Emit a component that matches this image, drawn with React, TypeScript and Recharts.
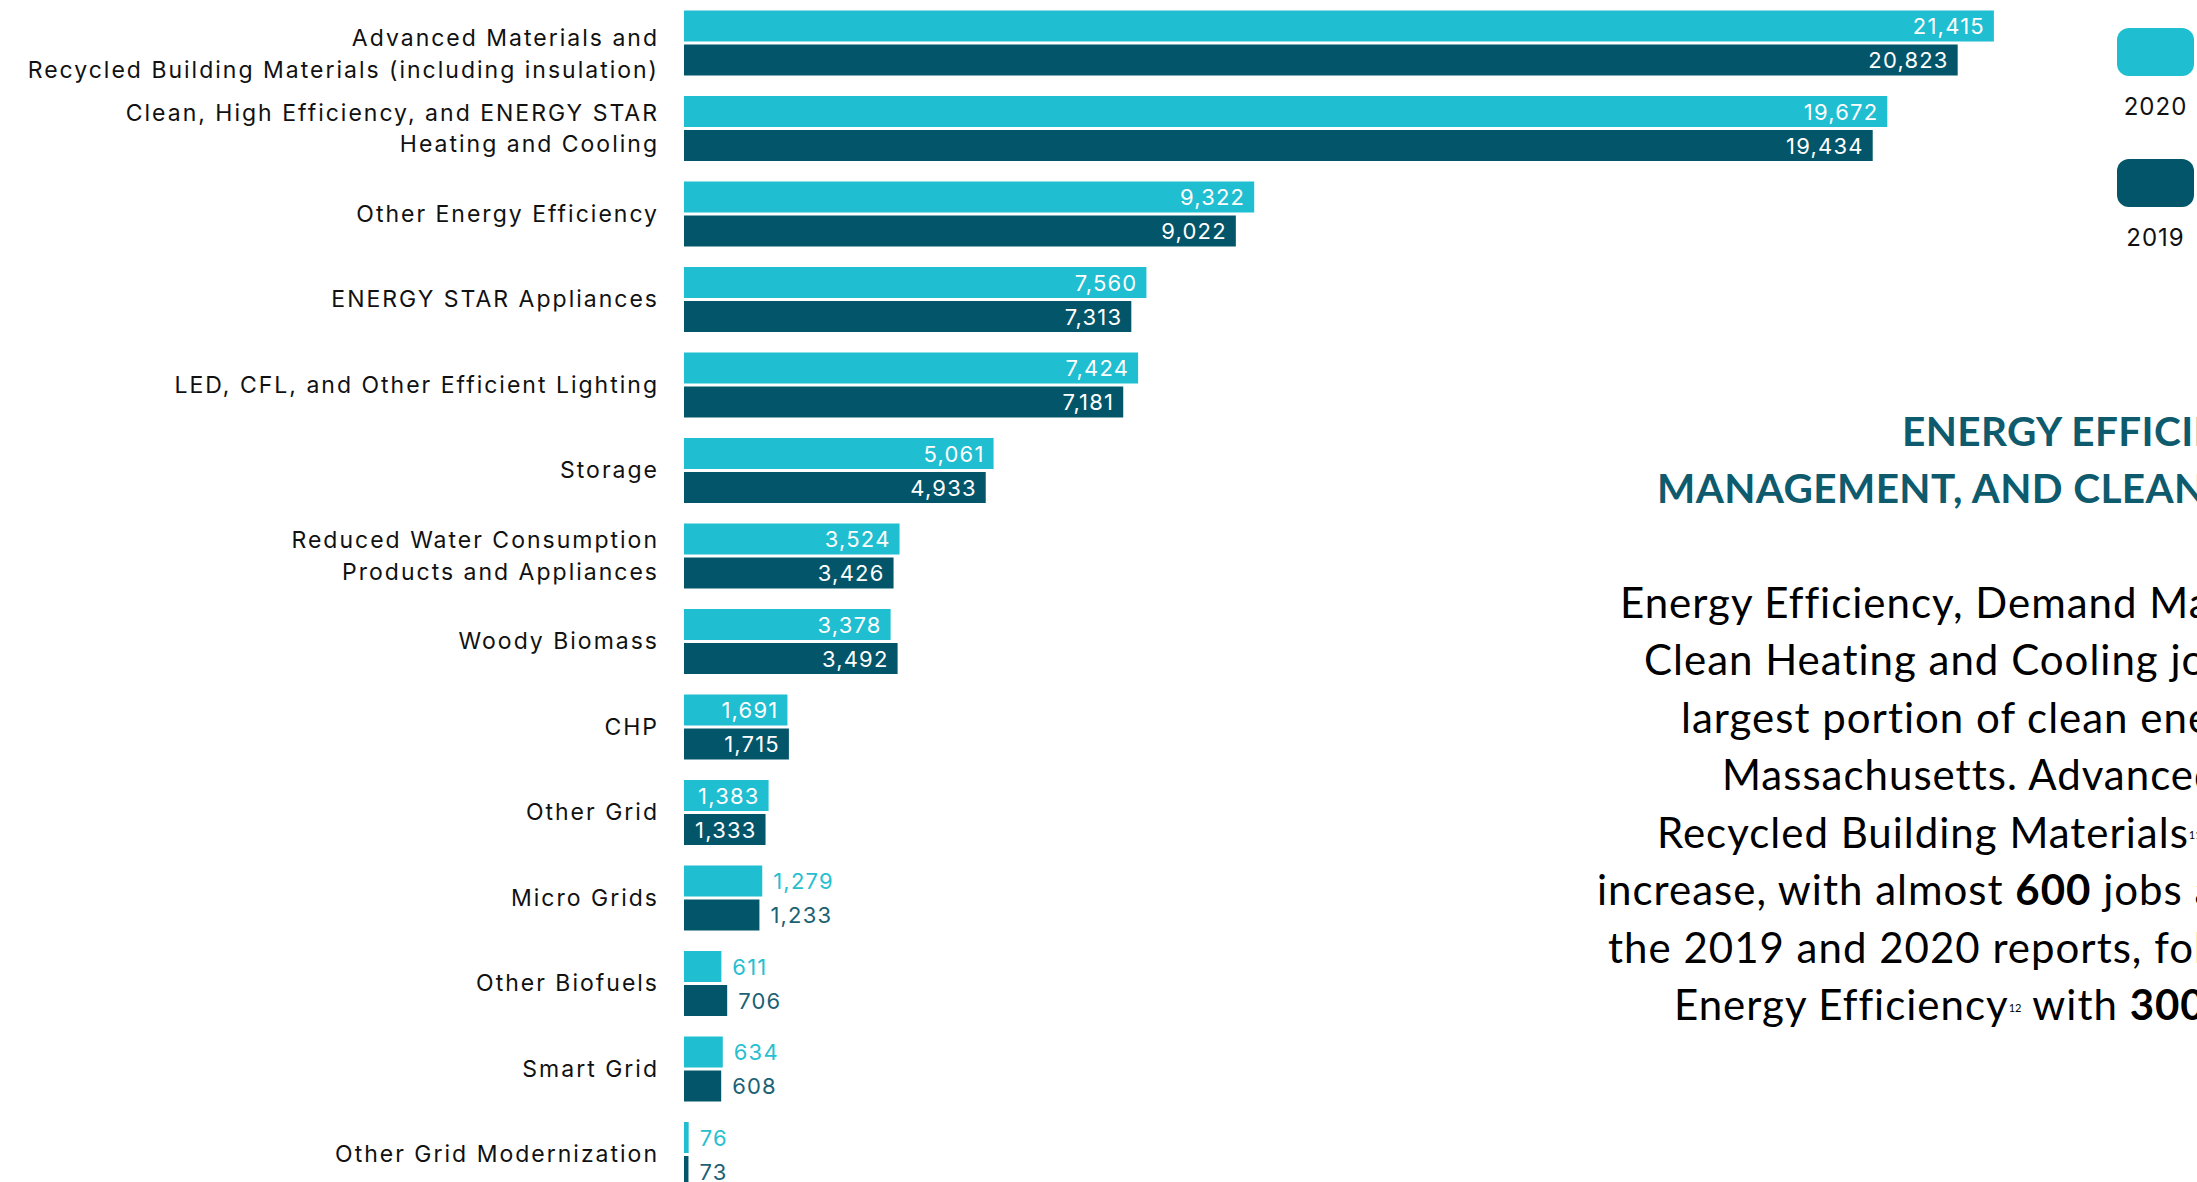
import React from 'react';
import { BarChart, Bar, XAxis, YAxis, LabelList, Legend } from 'recharts';

const categories = [
  'Advanced Materials and\nRecycled Building Materials (including insulation)',
  'Clean, High Efficiency, and ENERGY STAR\nHeating and Cooling',
  'Other Energy Efficiency',
  'ENERGY STAR Appliances',
  'LED, CFL, and Other Efficient Lighting',
  'Storage',
  'Reduced Water Consumption\nProducts and Appliances',
  'Woody Biomass',
  'CHP',
  'Other Grid',
  'Micro Grids',
  'Other Biofuels',
  'Smart Grid',
  'Other Grid Modernization',
];

const jobs2020 = [21415, 19672, 9322, 7560, 7424, 5061, 3524, 3378, 1691, 1383, 1279, 611, 634, 76];
const jobs2019 = [20823, 19434, 9022, 7313, 7181, 4933, 3426, 3492, 1715, 1333, 1233, 706, 608, 73];

const seriesNames = ['2020', '2019'];
const seriesColors = ['#1FBED0', '#03566A'];
const outsideLabelColors = ['#27BFD0', '#1B6274'];

const titleLines = ['ENERGY EFFICIENCY, DEMAND', 'MANAGEMENT, AND CLEAN HEATING AND COOLING'];
const bodyLines = [
  'Energy Efficiency, Demand Management, and',
  'Clean Heating and Cooling jobs represent the',
  'largest portion of clean energy jobs in',
  'Massachusetts. Advanced Materials and',
  'Recycled Building Materials|11| saw the largest',
  'increase, with almost *600* jobs added between',
  'the 2019 and 2020 reports, followed by Other',
  'Energy Efficiency|12| with *300* jobs added.',
];

const data = categories.map((name, i) => ({
  name,
  v2020: jobs2020[i],
  v2019: jobs2019[i],
}));

const LABEL_FONT = 'Inter, "Noto Sans", sans-serif';
const BODY_FONT = 'Lato, "Open Sans", sans-serif';

const CategoryTick = (props: any) => {
  const { x, y, payload, index } = props;
  const lines = String(payload.value).split('\n');
  const lh = 31.5;
  const shift = index === 0 ? 11 : 0;
  return (
    <text
      x={x}
      y={Number(y) + shift}
      textAnchor="end"
      dominantBaseline="central"
      fontFamily={LABEL_FONT}
      fontSize={23}
      letterSpacing={2}
      fill="#111111"
    >
      {lines.map((l: string, i: number) => (
        <tspan key={i} x={x} dy={i === 0 ? -((lines.length - 1) * lh) / 2 : lh} dominantBaseline="central">
          {l}
        </tspan>
      ))}
    </text>
  );
};

const makeValueLabel = (outsideColor: string) => (props: any) => {
  const { x, y, width, height, value } = props;
  const text = Number(value).toLocaleString('en-US');
  const cy = Number(y) + Number(height) / 2;
  if (Number(width) >= 80) {
    return (
      <text
        x={Number(x) + Number(width) - 9}
        y={cy}
        textAnchor="end"
        dominantBaseline="central"
        fontFamily={LABEL_FONT}
        fontSize={22}
        letterSpacing={1.2}
        fill="#ffffff"
      >
        {text}
      </text>
    );
  }
  return (
    <text
      x={Number(x) + Number(width) + 11}
      y={cy}
      textAnchor="start"
      dominantBaseline="central"
      fontFamily={LABEL_FONT}
      fontSize={22}
      letterSpacing={1.2}
      fill={outsideColor}
    >
      {text}
    </text>
  );
};

const LegendContent = () => {
  return (
    <div style={{ position: 'relative', width: 80, height: 230 }}>
      {seriesNames.map((n, i) => (
        <div key={n} style={{ position: 'absolute', left: 0, top: i * 131, width: 80 }}>
          <div style={{ width: 77, height: 48, borderRadius: 12, background: seriesColors[i] }} />
          <div
            style={{
              width: 77,
              textAlign: 'center',
              marginTop: 16,
              fontFamily: LABEL_FONT,
              fontSize: 24,
              letterSpacing: 1,
              lineHeight: '30px',
              color: '#111',
            }}
          >
            {n}
          </div>
        </div>
      ))}
    </div>
  );
};

const renderRich = (line: string) => {
  const parts = line.split(/(\|[^|]+\||\*[^*]+\*)/).filter((s) => s.length > 0);
  return parts.map((p, i) => {
    if (p.startsWith('|')) {
      return (
        <span key={i} style={{ fontSize: 11, letterSpacing: 0, verticalAlign: 'middle', position: 'relative', top: -2 }}>
          {p.slice(1, -1)}
        </span>
      );
    }
    if (p.startsWith('*')) {
      return (
        <span key={i} style={{ fontWeight: 700 }}>
          {p.slice(1, -1)}
        </span>
      );
    }
    return <span key={i}>{p}</span>;
  });
};

const titleStarts = [1902, 1657];
const titleCenters = [432, 489];
const bodyStarts = [1620, 1644, 1681, 1722, 1657, 1597, 1608, 1674];
const bodyFirstCenter = 603;
const bodyStep = 57.5;
const FS = 42;
const LH = 50;

export default function App() {
  return (
    <div style={{ position: 'absolute', left: 0, top: 0, width: 2197, height: 1182, overflow: 'hidden', background: '#ffffff' }}>
      <BarChart
        width={2197}
        height={1197}
        layout="vertical"
        data={data}
        margin={{ top: 0, right: 45, bottom: 0, left: 0 }}
        barCategoryGap={10.5}
        barGap={3}
      >
        <XAxis type="number" domain={[0, 24000]} hide />
        <YAxis
          type="category"
          dataKey="name"
          width={684}
          tickLine={false}
          axisLine={false}
          tickSize={0}
          tickMargin={25}
          interval={0}
          tick={<CategoryTick />}
        />
        <Legend
          layout="vertical"
          align="center"
          verticalAlign="middle"
          wrapperStyle={{ position: 'absolute', left: 2117, top: 28, width: 80, height: 230 }}
          content={<LegendContent />}
        />
        <Bar dataKey="v2020" name={seriesNames[0]} fill={seriesColors[0]} isAnimationActive={false}>
          <LabelList dataKey="v2020" content={makeValueLabel(outsideLabelColors[0])} />
        </Bar>
        <Bar dataKey="v2019" name={seriesNames[1]} fill={seriesColors[1]} isAnimationActive={false}>
          <LabelList dataKey="v2019" content={makeValueLabel(outsideLabelColors[1])} />
        </Bar>
      </BarChart>
      {titleLines.map((t, i) => (
        <div
          key={'t' + i}
          style={{
            position: 'absolute',
            left: titleStarts[i],
            top: titleCenters[i] - LH / 2 - 1.2,
            height: LH,
            lineHeight: LH + 'px',
            whiteSpace: 'nowrap',
            fontFamily: BODY_FONT,
            fontWeight: 700,
            fontSize: 40.5,
            letterSpacing: 0.4,
            color: '#0F5B6E',
          }}
        >
          {t}
        </div>
      ))}
      {bodyLines.map((t, i) => (
        <div
          key={'b' + i}
          style={{
            position: 'absolute',
            left: bodyStarts[i],
            top: bodyFirstCenter + i * bodyStep - LH / 2 - 1.2,
            height: LH,
            lineHeight: LH + 'px',
            whiteSpace: 'nowrap',
            fontFamily: BODY_FONT,
            fontSize: FS,
            letterSpacing: 1.0,
            color: '#000000',
          }}
        >
          {renderRich(t)}
        </div>
      ))}
    </div>
  );
}
